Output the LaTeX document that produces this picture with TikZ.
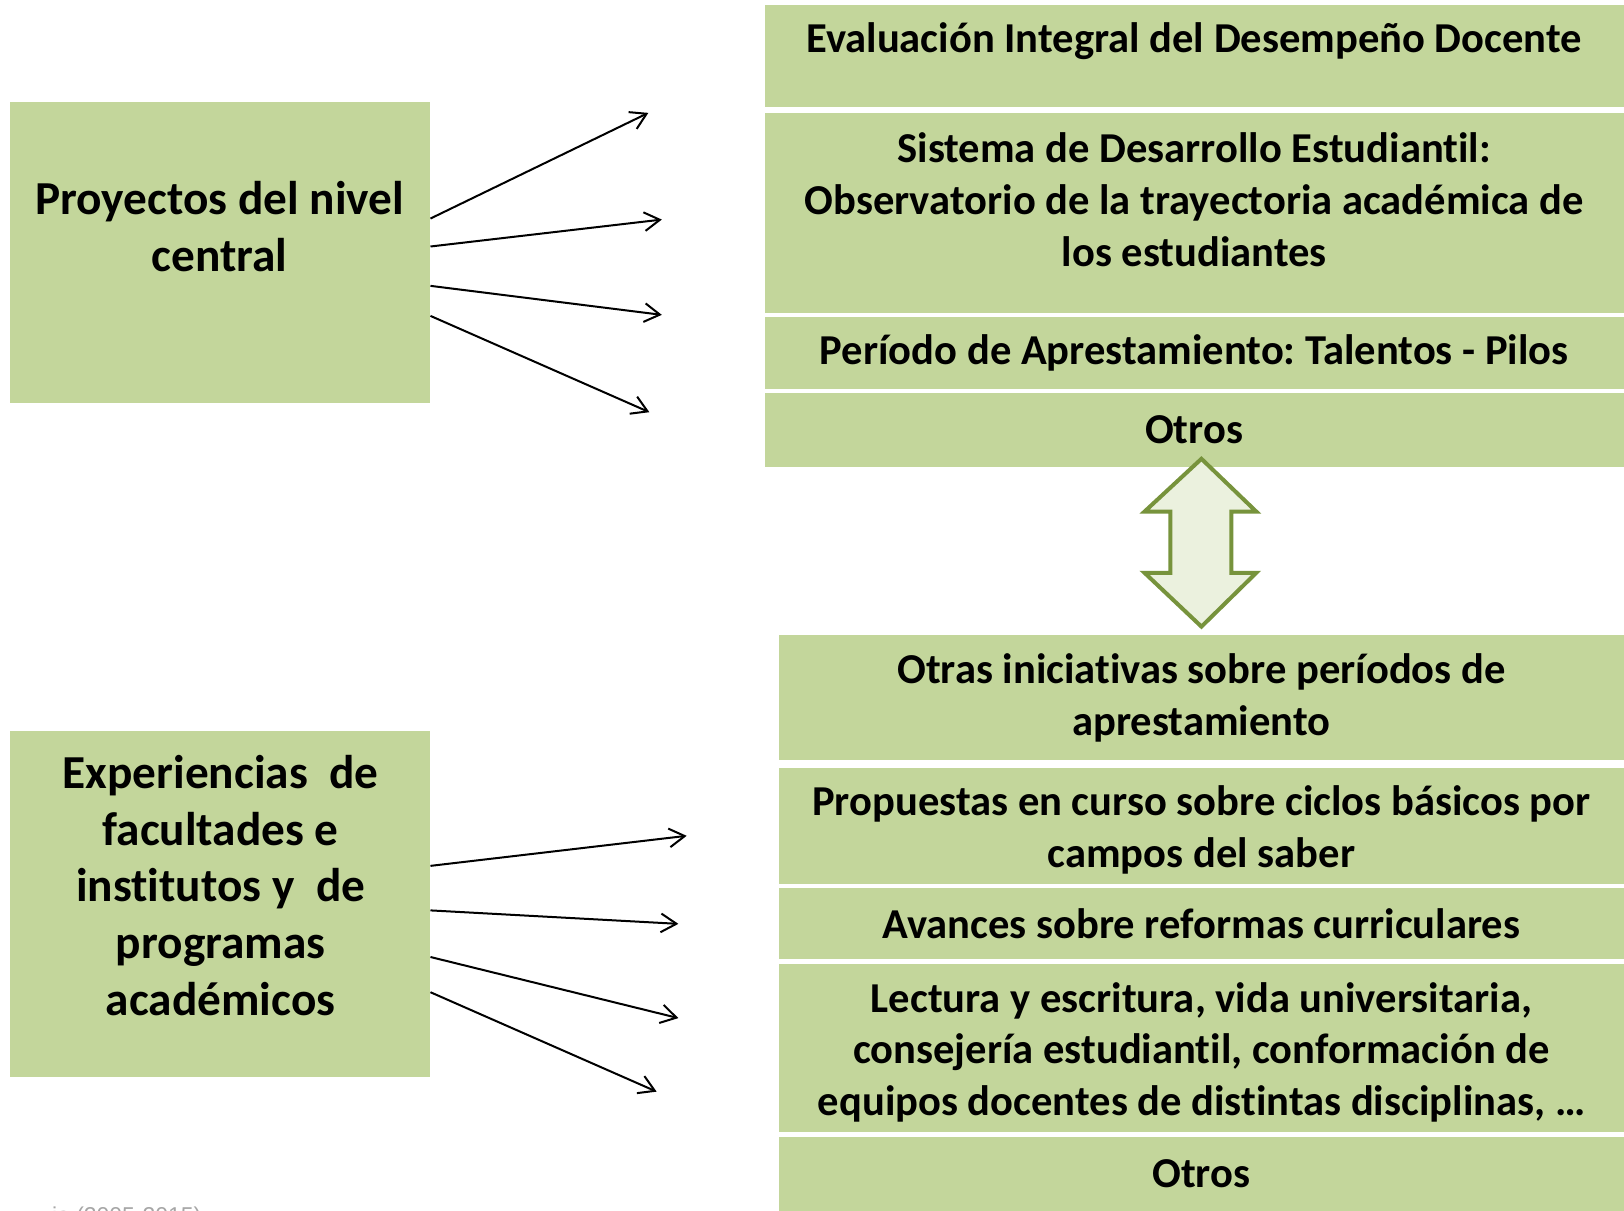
\documentclass[tikz,border=0pt]{standalone}
\usepackage{fontspec}
\setmainfont{Carlito}[Ligatures=NoCommon]
\newfontfamily\notafont{Liberation Sans}
\usetikzlibrary{positioning}
\usetikzlibrary{calc}
\usetikzlibrary{arrows.meta}
\definecolor{verdecaja}{RGB}{195,214,155}
\definecolor{verdeborde}{RGB}{119,147,60}
\definecolor{verdeclaro}{RGB}{235,241,222}
\frenchspacing

\tikzset{
    caja/.style={rectangle, fill=verdecaja, inner sep=0pt, anchor=north west},
    textocaja/.style={align=center, inner sep=0pt, font=\fontsize{23.4}{28.5}\selectfont\bfseries},
    textogrande/.style={align=center, inner sep=0pt, font=\fontsize{26}{31.3}\selectfont\bfseries},
    flecha/.style={->, line width=1.1pt},
}

\begin{document}
\begin{tikzpicture}[x=0.02cm, y=-0.02cm, >={Straight Barb[length=3mm,width=3.6mm]}]
            \useasboundingbox (0,0) rectangle (1568,1169);

            % cajas de la izquierda
            \node[caja, minimum width=8.12cm, minimum height=5.82cm] (proyectos) at (9,98) {};
            \node[caja, minimum width=8.12cm, minimum height=6.70cm] (experiencias) at (9,705) {};
            \node[textogrande] (proyectos-t) at (212,219) {Proyectos del nivel\\central};
            \node[textogrande] (experiencias-t) at (213,855) {Experiencias\ \ de\\facultades e\\institutos y\ \ de\\programas\\académicos};

            % cajas de arriba
            \node[caja, minimum width=16.64cm, minimum height=1.98cm] (evaluacion) at (738,4) {};
            \node[caja, minimum width=16.64cm, minimum height=3.86cm] (sistema) at (738,109) {};
            \node[caja, minimum width=16.64cm, minimum height=1.38cm] (periodo) at (738,306) {};
            \node[caja, minimum width=16.64cm, minimum height=1.44cm] (otros-a) at (738,379) {};
            \node[textocaja] (evaluacion-t) at (1153,40) {Evaluación Integral del Desempeño Docente};
            \node[textocaja] (sistema-t) at (1153,193) {Sistema de Desarrollo Estudiantil:\\Observatorio de la trayectoria académica de\\los estudiantes};
            \node[textocaja] (periodo-t) at (1153,341) {Período de Aprestamiento: Talentos - Pilos};
            \node[textocaja] (otros-a-t) at (1153,415) {Otros};

            % cajas de abajo
            \node[caja, minimum width=16.4cm, minimum height=2.40cm] (iniciativas) at (752,613) {};
            \node[caja, minimum width=16.4cm, minimum height=2.24cm] (propuestas) at (752,741) {};
            \node[caja, minimum width=16.4cm, minimum height=1.38cm] (avances) at (752,857) {};
            \node[caja, minimum width=16.4cm, minimum height=3.26cm] (lectura) at (752,930) {};
            \node[caja, minimum width=16.4cm, minimum height=1.60cm] (otros-b) at (752,1097) {};
            \node[textocaja] (iniciativas-t) at (1160,674) {Otras iniciativas sobre períodos de\\aprestamiento};
            \node[textocaja] (propuestas-t) at (1160,801) {Propuestas en curso sobre ciclos básicos por\\campos del saber};
            \node[textocaja] (avances-t) at (1160,892) {Avances sobre reformas curriculares};
            \node[textocaja] (lectura-t) at (1160,1016) {Lectura y escritura, vida universitaria,\\consejería estudiantil, conformación de\\equipos docentes de distintas disciplinas, …};
            \node[textocaja] (otros-b-t) at (1160,1133) {Otros};

            % flecha doble
            \draw[line width=2.2pt, color=verdeborde, fill=verdeclaro, line join=miter]
                (1160,443) -- (1213,494) -- (1189,494) -- (1189,553) -- (1213,553) -- (1160,605)
                -- (1105,553) -- (1130,553) -- (1130,494) -- (1105,494) -- cycle;

            % flechas de arriba
            \coordinate (p1) at (626,109);
            \coordinate (p2) at (639,212);
            \coordinate (p3) at (639,304);
            \coordinate (p4) at (627,398);
            \draw[flecha] ($(proyectos.north east)+(0,113)$) -- (p1);
            \draw[flecha] ($(proyectos.north east)+(0,140)$) -- (p2);
            \draw[flecha] ($(proyectos.north east)+(0,178)$) -- (p3);
            \draw[flecha] ($(proyectos.north east)+(0,207)$) -- (p4);

            % flechas de abajo
            \coordinate (e1) at (663,807);
            \coordinate (e2) at (655,892);
            \coordinate (e3) at (655,983);
            \coordinate (e4) at (634,1054);
            \draw[flecha] ($(experiencias.north east)+(0,131)$) -- (e1);
            \draw[flecha] ($(experiencias.north east)+(0,174)$) -- (e2);
            \draw[flecha] ($(experiencias.north east)+(0,219)$) -- (e3);
            \draw[flecha] ($(experiencias.north east)+(0,253)$) -- (e4);

            % nota cortada
            \node[anchor=base west, inner sep=0pt, color=gray!70, font=\notafont\fontsize{12.6}{15}\selectfont] (nota) at (50,1181) {ia (2005-2015)};
        \end{tikzpicture}
\end{document}
